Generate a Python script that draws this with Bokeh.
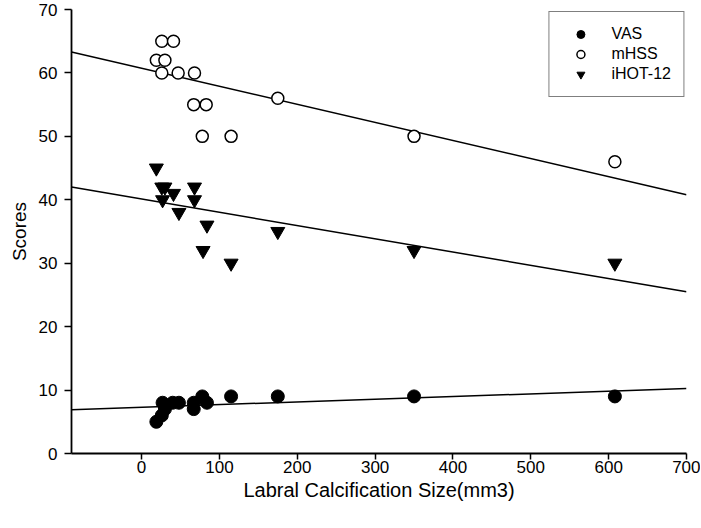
from bokeh.plotting import figure
from bokeh.models import Range1d, FixedTicker, Legend, LegendItem
from bokeh.embed import file_html
from bokeh.resources import INLINE
import numpy as np

# ---- data ----
vas_x = [19, 26, 30, 27, 40, 48, 67, 67, 78, 84, 115, 175, 350, 608]
vas_y = [5, 6, 7, 8, 8, 8, 7, 8, 9, 8, 9, 9, 9, 9]

mhss_x = [19, 26, 30, 26, 41, 47, 68, 67, 83, 78, 115, 175, 350, 608]
mhss_y = [62, 65, 62, 60, 65, 60, 60, 55, 55, 50, 50, 56, 50, 46]

ihot_x = [19, 26, 30, 41, 68, 27, 68, 48, 84, 79, 115, 175, 350, 608]
ihot_y = [45, 42, 42, 41, 42, 40, 40, 38, 36, 32, 30, 35, 32, 30]

# fitted regression lines (intercept, slope)
vas_fit = (7.28, 0.00424)
mhss_fit = (60.74, -0.02848)
ihot_fit = (40.12, -0.02089)

x_ticks = [0, 100, 200, 300, 400, 500, 600, 700]
y_ticks = [0, 10, 20, 30, 40, 50, 60, 70]
x_lo, x_hi = -90, 700
y_lo, y_hi = 0, 70

FONT = "Liberation Sans"

p = figure(width=700, height=520, output_backend="svg", toolbar_location=None,
           x_range=Range1d(x_lo, x_hi), y_range=Range1d(y_lo, y_hi),
           min_border_left=71, min_border_right=14, min_border_top=9,
           min_border_bottom=67)
p.outline_line_color = None
p.grid.visible = False
p.background_fill_color = "white"
p.border_fill_color = "white"

fx = np.array([x_lo, x_hi], dtype=float)
for (a, b) in (mhss_fit, ihot_fit, vas_fit):
    p.line(fx, a + b * fx, line_color="black", line_width=1.5)

r_vas = p.scatter(vas_x, vas_y, marker="circle", size=13, fill_color="black",
                  line_color="black", line_width=1)
r_mhss = p.scatter(mhss_x, mhss_y, marker="circle", size=12, fill_color="white",
                   line_color="black", line_width=1.5)
r_ihot = p.scatter(ihot_x, ihot_y, marker="inverted_triangle", size=14,
                   fill_color="black", line_color="black", line_width=1)

xa = p.xaxis[0]
ya = p.yaxis[0]
xa.ticker = FixedTicker(ticks=x_ticks)
ya.ticker = FixedTicker(ticks=y_ticks)
for ax in (xa, ya):
    ax.minor_tick_line_color = None
    ax.major_tick_in = 0
    ax.axis_line_width = 1.8
    ax.major_tick_line_width = 1.5
    ax.axis_line_color = "black"
    ax.major_tick_line_color = "black"
    ax.major_label_text_font = FONT
    ax.major_label_text_font_size = "17px"
    ax.major_label_text_color = "black"
    ax.axis_label_text_font = FONT
    ax.axis_label_text_font_style = "normal"
    ax.axis_label_text_color = "black"
xa.axis_label_text_font_size = "20px"
ya.axis_label_text_font_size = "19px"
xa.major_tick_out = 6
ya.major_tick_out = 7
xa.major_label_standoff = 1
ya.major_label_standoff = 7
xa.axis_label = "Labral Calcification Size(mm3)"
ya.axis_label = "Scores"
xa.axis_label_standoff = 3
ya.axis_label_standoff = 6

legend = Legend(items=[LegendItem(label="VAS", renderers=[r_vas]),
                       LegendItem(label="mHSS", renderers=[r_mhss]),
                       LegendItem(label="iHOT-12", renderers=[r_ihot])],
                location="top_right", margin=2, padding=12, spacing=0,
                glyph_width=38, glyph_height=20, label_height=20,
                label_standoff=12, label_text_font=FONT,
                label_text_font_size="16px", label_text_color="black",
                border_line_color="black", border_line_width=1.2,
                background_fill_color="white", background_fill_alpha=1)
p.add_layout(legend)

open("out.html", "w").write(file_html(p, INLINE))
